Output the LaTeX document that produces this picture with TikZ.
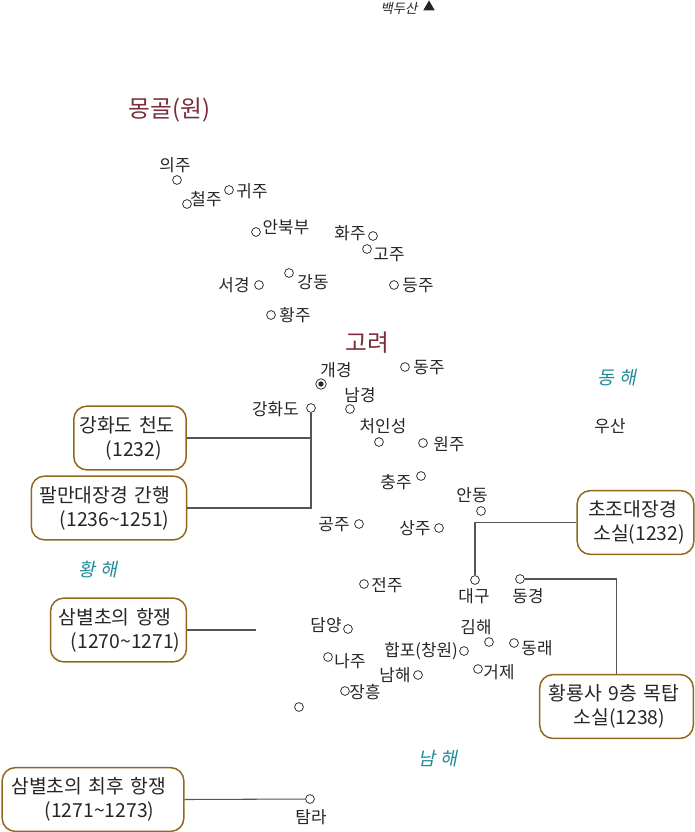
\documentclass[tikz,border=0pt]{standalone}
\usepackage{fontspec}
\setmainfont{Noto Sans CJK KR}
\newfontfamily\slantfont[FakeSlant=0.2]{Noto Sans CJK KR}
\usetikzlibrary{shapes.geometric}

\definecolor{boxline}{HTML}{8F6A1E}
\definecolor{landred}{HTML}{7B2D3B}
\definecolor{seateal}{HTML}{1F8A96}
\definecolor{linegray}{HTML}{555555}

\tikzset{
    place/.style={circle, draw=black!80, fill=white, line width=0.45pt, minimum size=5pt, inner sep=0pt},
    city/.style={font=\fontsize{9.6}{11}\selectfont, text=black!85, inner sep=0pt, yshift=-0.5pt},
    land/.style={font=\fontsize{13.5}{15}\selectfont, text=landred, inner sep=0pt, yshift=-0.6pt},
    sea/.style={font=\fontsize{10.5}{12}\slantfont, text=seateal, inner sep=0pt, yshift=-0.5pt},
    eventbox/.style={draw=boxline, line width=0.85pt, rounded corners=7.5pt, fill=white,
        font=\fontsize{11}{13.6}\selectfont, text=black!85, align=left, inner xsep=3.2pt, inner ysep=0pt, minimum height=36.3pt},
    link/.style={draw=linegray, line width=0.6pt}
}

\begin{document}
\begin{tikzpicture}[x=0.02cm, y=-0.02cm]
    \useasboundingbox (0,0) rectangle (695,832);

    % Paektu
    \node[font=\fontsize{7.6}{9}\slantfont, text=black!85, inner sep=0pt] (baekdu) at (399,8) {백두산};
    \node[regular polygon, regular polygon sides=3, fill=black!85, inner sep=0pt, minimum size=7.5pt] (peak) at (429,7) {};

    % Lands and seas
    \node[land] (mongol) at (169.5,109) {몽골(원)};
    \node[land] (goryeo) at (367,342) {고려};
    \node[sea] (donghae) at (617,377) {동 해};
    \node[sea] (hwanghae) at (98,569) {황 해};
    \node[sea] (namhae) at (438,758) {남 해};

    % Places
    \node[place] (uiju) at (177,180) {};
    \node[place] (cheolju) at (187,204) {};
    \node[place] (gwiju) at (229,190) {};
    \node[place] (anbukbu) at (256,232) {};
    \node[place] (hwaju) at (373,236) {};
    \node[place] (goju) at (367,249) {};
    \node[place] (seogyeong) at (259,285) {};
    \node[place] (gangdong) at (289,273) {};
    \node[place] (deungju) at (394,285) {};
    \node[place] (hwangju) at (271,315) {};
    \node[place, minimum size=6pt] (gaegyeong) at (321,384) {};
    \node[circle, fill=black!85, minimum size=3pt, inner sep=0pt] (capital) at (gaegyeong) {};
    \node[place] (dongju) at (405,367) {};
    \node[place] (namgyeong) at (350,409) {};
    \node[place] (ganghwa) at (311,408) {};
    \node[place] (cheoin) at (379,442) {};
    \node[place] (wonju) at (423,443) {};
    \node[place] (chungju) at (421,476) {};
    \node[place] (andong) at (481,511) {};
    \node[place] (sangju) at (439,528) {};
    \node[place] (gongju) at (359,524) {};
    \node[place] (jeonju) at (364,584) {};
    \node[place] (daegu) at (475,580) {};
    \node[place] (donggyeong) at (520,579) {};
    \node[place] (damyang) at (348,629) {};
    \node[place] (gimhae) at (489,642) {};
    \node[place] (dongnae) at (514,643) {};
    \node[place] (naju) at (328,657) {};
    \node[place] (happo) at (464,651) {};
    \node[place] (geoje) at (478,669) {};
    \node[place] (namhae2) at (418,675) {};
    \node[place] (jangheung) at (345,691) {};
    \node[place] (jindo) at (299,707) {};
    \node[place] (tamna) at (310,799) {};

    % Place names
    \node[city] (uiju-t) at (175,164) {의주};
    \node[city] (cheolju-t) at (206,198) {철주};
    \node[city] (gwiju-t) at (252,190) {귀주};
    \node[city] (anbukbu-t) at (286,226) {안북부};
    \node[city] (hwaju-t) at (350,232) {화주};
    \node[city] (goju-t) at (389,254) {고주};
    \node[city] (seogyeong-t) at (234,284) {서경};
    \node[city] (gangdong-t) at (313,281) {강동};
    \node[city] (deungju-t) at (418,285) {등주};
    \node[city] (hwangju-t) at (295,314) {황주};
    \node[city] (gaegyeong-t) at (336,369) {개경};
    \node[city] (dongju-t) at (429,367) {동주};
    \node[city] (namgyeong-t) at (360,394) {남경};
    \node[city] (ganghwa-t) at (275.5,408) {강화도};
    \node[city] (cheoin-t) at (383,425) {처인성};
    \node[city] (wonju-t) at (449,443) {원주};
    \node[city] (usan-t) at (610,425) {우산};
    \node[city] (chungju-t) at (396,481) {충주};
    \node[city] (andong-t) at (472,494) {안동};
    \node[city] (sangju-t) at (415,527) {상주};
    \node[city] (gongju-t) at (334,524) {공주};
    \node[city] (jeonju-t) at (387,584) {전주};
    \node[city] (daegu-t) at (474,595) {대구};
    \node[city] (donggyeong-t) at (528,595) {동경};
    \node[city] (damyang-t) at (326,624) {담양};
    \node[city] (gimhae-t) at (476,626) {김해};
    \node[city] (dongnae-t) at (537,647) {동래};
    \node[city] (naju-t) at (350,660) {나주};
    \node[city] (happo-t) at (421,650) {합포(창원)};
    \node[city] (geoje-t) at (499,671) {거제};
    \node[city] (namhae2-t) at (395,674) {남해};
    \node[city] (jangheung-t) at (365,691) {장흥};
    \node[city] (tamna-t) at (311,816) {탐라};

    % Events
    \node[eventbox, text width=57.6pt] (cheondo) at (130,438) {강화도 천도\\\hspace*{15pt}(1232)};
    \node[eventbox, text width=82pt] (palman) at (109,508) {\hspace*{1.4pt}팔만대장경 간행\\\hspace*{13pt}(1236\textasciitilde1251)};
    \node[eventbox, text width=60pt] (chojo) at (635.5,522.5) {\hspace*{3pt}초조대장경\\\hspace*{6pt}소실(1232)};
    \node[eventbox, text width=81pt] (hwangnyong) at (616.5,706.5) {\hspace*{2pt}황룡사 9층 목탑\\\hspace*{16pt}소실(1238)};
    \node[eventbox, text width=71pt] (sambyeol) at (118.5,630) {\hspace*{1.4pt}삼별초의 항쟁\\\hspace*{8.4pt}(1270\textasciitilde1271)};
    \node[eventbox, text width=97pt] (choehu) at (93,799.5) {\hspace*{2pt}삼별초의 최후 항쟁\\\hspace*{21pt}(1271\textasciitilde1273)};
    \coordinate (sambyeol-end) at (256,630);

    % Connectors
    \draw[link] (cheondo.east) -- (ganghwa |- cheondo.east);
    \draw[link] (palman.east) -| (ganghwa);
    \draw[link] (chojo.west) -| (daegu);
    \draw[link] (donggyeong) -| (hwangnyong.north);
    \draw[link] (sambyeol.east) -- (sambyeol-end);
    \draw[link] (choehu.east) -- (tamna);
\end{tikzpicture}
\end{document}
